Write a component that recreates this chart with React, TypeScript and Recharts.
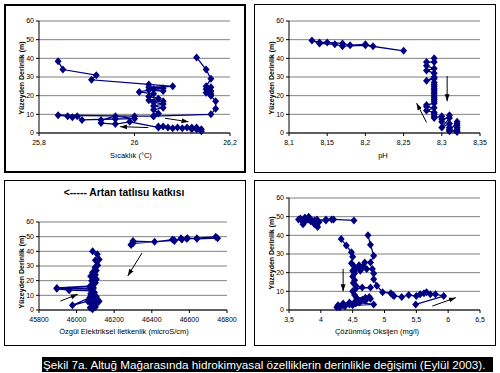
import React from 'react';
import { CartesianGrid, ReferenceLine, Scatter, ScatterChart, XAxis, YAxis } from 'recharts';

type Pt = { x: number; y: number };
const p = (x: number, y: number): Pt => ({ x, y });

const NAVY = '#000080';
const FONT = "'Liberation Sans', Arial, sans-serif";

const depthTicks = [0, 10, 20, 30, 40, 50, 60];
const tempTicks = [25.8, 26, 26.2];
const phTicks = [8.1, 8.15, 8.2, 8.25, 8.3, 8.35];
const ecTicks = [45800, 46000, 46200, 46400, 46600, 46800];
const doTicks = [3.5, 4, 4.5, 5, 5.5, 6, 6.5];

// Sıcaklık
const tempDeep = [
  p(26.13, 40.5), p(26.15, 34), p(26.16, 29), p(26.15, 25), p(26.16, 24.5), p(26.15, 23.5),
  p(26.16, 22.5), p(26.15, 21.5), p(26.16, 21), p(26.16, 20), p(26.17, 17), p(26.17, 13),
  p(26.16, 10), p(26.04, 9), p(26.05, 10.5), p(26.04, 12.5), p(26.06, 13.5), p(26.04, 14.5),
  p(26.06, 15.5), p(26.04, 16.5), p(26.06, 17), p(26.03, 17.5), p(26.05, 18.5), p(26.03, 19.5),
  p(26.04, 21), p(26.01, 22), p(26.03, 23), p(26.06, 22.5), p(26.04, 23.5), p(26.06, 24),
  p(26.03, 24.5), p(26.08, 25), p(26.03, 26), p(25.91, 28.5), p(25.92, 31), p(25.85, 34), p(25.84, 38.5),
];
const tempShallow = [
  p(26.14, 1), p(26.14, 2), p(26.13, 3), p(26.13, 2), p(26.12, 3), p(26.12, 2), p(26.11, 3),
  p(26.1, 2.5), p(26.09, 3), p(26.08, 2.5), p(26.07, 3), p(26.06, 3.5), p(26.05, 3.5), p(26.05, 3),
  p(25.99, 6), p(25.96, 4.8), p(25.93, 5.3), p(25.93, 7), p(25.96, 9), p(26.0, 7.7), p(25.96, 7.5),
  p(25.89, 7), p(25.88, 9), p(25.87, 8.5), p(25.86, 9), p(25.84, 9.5), p(26.0, 9), p(26.04, 9),
];
const tempArrows = [
  [26.064, 7.9, 26.113, 6],
  [26.029, 2.9, 25.97, 3.4],
];

// pH
const phUpper = [
  p(8.25, 44), p(8.2, 47), p(8.17, 46.5), p(8.16, 47.5), p(8.14, 48), p(8.13, 49.5), p(8.14, 48.5),
  p(8.15, 48.5), p(8.17, 48), p(8.18, 47), p(8.2, 47.5), p(8.21, 46.5),
];
const phLower = [
  p(8.29, 40), p(8.29, 38), p(8.28, 38), p(8.28, 36), p(8.29, 34.5), p(8.28, 33.5), p(8.29, 32),
  p(8.29, 30), p(8.28, 28), p(8.29, 29), p(8.29, 27), p(8.29, 26), p(8.29, 25), p(8.29, 24),
  p(8.29, 23), p(8.29, 22), p(8.29, 21), p(8.29, 20), p(8.29, 19), p(8.29, 18), p(8.29, 17),
  p(8.29, 16), p(8.28, 15), p(8.28, 14), p(8.29, 13.5), p(8.28, 12), p(8.29, 11), p(8.29, 10),
  p(8.29, 9), p(8.29, 8), p(8.3, 9), p(8.3, 7.5), p(8.3, 6), p(8.31, 9.5), p(8.31, 8), p(8.3, 3),
  p(8.31, 5), p(8.31, 3), p(8.31, 2), p(8.31, 1), p(8.32, 6), p(8.32, 5), p(8.32, 4), p(8.32, 3),
  p(8.32, 2), p(8.32, 1), p(8.31, 1.5), p(8.32, 0.5),
];
const phArrows = [
  [8.307, 30.5, 8.307, 17],
  [8.28, 5.7, 8.267, 16],
];

// Özgül elektriksel iletkenlik
const ecUpper = [
  p(46290, 44.5), p(46300, 47), p(46415, 46.5), p(46510, 48), p(46520, 47), p(46555, 49),
  p(46585, 48.5), p(46640, 49), p(46740, 50), p(46750, 49), p(46640, 48.5), p(46590, 49),
  p(46560, 48), p(46520, 47.5), p(46300, 45.5), p(46290, 44.5),
];
const ecLower = [
  p(46085, 40), p(46110, 38), p(46120, 34.5), p(46100, 34), p(46112, 30.5), p(46098, 29),
  p(46105, 27), p(46085, 25.5), p(46100, 24), p(46075, 23), p(46090, 22), p(46105, 21),
  p(46080, 20), p(46095, 19), p(46085, 17.5), p(46070, 16), p(46090, 15), p(45895, 14.5),
  p(45960, 13.5), p(46080, 13), p(46095, 12), p(46075, 11), p(46090, 10), p(46105, 9),
  p(46080, 8), p(46110, 7), p(46120, 6), p(46095, 5), p(46080, 4), p(46100, 3), p(46072, 1.5),
  p(46085, 0.5), p(46100, 2), p(46112, 5.5), p(46060, 6), p(45978, 3.2), p(46070, 8.5),
  p(46090, 11.5), p(46080, 14), p(45895, 15), p(46085, 16.5), p(46100, 18.5),
];
const ecArrows = [
  [46348, 38.9, 46272, 23.2],
  [45914, 6.1, 46006, 10.7],
];

// Çözünmüş oksijen
const doUpper = [
  p(4.52, 48), p(4.2, 48.5), p(4.17, 48.5), p(4.08, 48.5), p(3.97, 47), p(3.95, 44.5), p(3.9, 46),
  p(3.86, 48), p(3.81, 50), p(3.78, 48.5), p(3.74, 47), p(3.72, 46), p(3.7, 48), p(3.65, 48.5),
  p(3.68, 49), p(3.75, 49.5), p(3.8, 48.5), p(3.84, 47.5), p(3.9, 48), p(3.94, 48.5), p(4.08, 48),
];
const doRight = [
  p(4.74, 40), p(4.78, 35), p(4.83, 29), p(4.78, 25.5), p(4.69, 25.5), p(4.66, 23.5), p(4.6, 24),
  p(4.55, 22), p(4.62, 21), p(4.72, 22), p(4.81, 22), p(4.83, 19.5), p(4.83, 16.5), p(4.88, 13),
  p(4.97, 9.5), p(5.1, 9), p(5.13, 8), p(5.15, 7.5), p(5.27, 7), p(5.38, 8), p(5.5, 7.5),
  p(5.56, 8.5), p(5.62, 9), p(5.66, 9.5), p(5.72, 8.5), p(5.8, 8.5), p(5.93, 7.5), p(5.49, 3),
];
const doLeft = [
  p(4.32, 38), p(4.4, 34.5), p(4.48, 31), p(4.5, 28.5), p(4.48, 25), p(4.52, 23.5), p(4.5, 21),
  p(4.53, 19.5), p(4.5, 18), p(4.53, 16), p(4.51, 14.5), p(4.55, 13), p(4.65, 12), p(4.78, 12),
  p(4.55, 11.5), p(4.5, 10), p(4.53, 8), p(4.56, 6.5), p(4.7, 6.5), p(4.76, 7), p(4.65, 5.5),
  p(4.55, 5), p(4.45, 4), p(4.35, 3.5), p(4.27, 2.5), p(4.25, 1.5), p(4.3, 1.5), p(4.38, 2),
  p(4.45, 3), p(4.55, 3.5), p(4.62, 4.5), p(4.7, 5), p(4.78, 6), p(4.68, 5.5), p(4.6, 4),
  p(4.83, 3), p(4.5, 2.5), p(4.35, 2.5), p(4.28, 2),
];
const doArrows = [
  [4.35, 22, 4.35, 10],
  [5.75, 2.1, 6.12, 6.6],
];

const comma = (v: number) => String(v).replace('.', ',');

function Diamond(props: any) {
  const { cx, cy } = props;
  if (cx == null || cy == null) return null;
  return <path d={`M${cx},${cy - 4}L${cx + 3.5},${cy}L${cx},${cy + 4}L${cx - 3.5},${cy}Z`} fill={NAVY} />;
}

function Arrow(props: any) {
  const { x1, y1, x2, y2 } = props;
  return <line x1={x1} y1={y1} x2={x2} y2={y2} stroke="#000" strokeWidth={1} markerEnd="url(#arrowHead)" />;
}

type Box = { l: number; t: number; w: number; h: number };
type Plot = { l: number; t: number; r: number; b: number };

function Profile(props: {
  box: Box;
  plot: Plot;
  xDomain: [number, number];
  xTicks: number[];
  fmt?: (v: number) => string;
  series: Pt[][];
  arrows: number[][];
  xTitle: string;
  xTitleX: number;
  xTitleY: number;
  yTitleY: number;
  thick?: boolean;
}) {
  const { box, plot } = props;
  const margin = {
    top: plot.t - box.t,
    left: plot.l - box.l - 20,
    right: box.l + box.w - plot.r,
    bottom: box.t + box.h - plot.b - 20,
  };
  const tick = { fontSize: 7, fill: '#000', fontFamily: FONT };
  return (
    <>
      <div
        style={{
          position: 'absolute', left: box.l, top: box.t, width: box.w, height: box.h,
          border: props.thick ? '2px solid #000' : '1px solid #000', boxSizing: 'border-box',
        }}
      />
      <div style={{ position: 'absolute', left: box.l, top: box.t }}>
        <ScatterChart width={box.w} height={box.h} margin={margin}>
          <CartesianGrid vertical={false} stroke="#808080" />
          <XAxis
            type="number" dataKey="x" domain={props.xDomain} ticks={props.xTicks} interval={0}
            allowDataOverflow height={20} tick={tick} tickSize={3} tickMargin={4}
            axisLine={{ stroke: '#000' }} tickLine={{ stroke: '#000' }} tickFormatter={props.fmt}
          />
          <YAxis
            type="number" dataKey="y" domain={[0, 60]} ticks={depthTicks} interval={0}
            width={20} tick={tick} tickSize={3} tickMargin={2}
            axisLine={{ stroke: '#000' }} tickLine={{ stroke: '#000' }}
          />
          {props.series.map((s, i) => (
            <Scatter key={i} data={s} fill={NAVY} line={{ stroke: NAVY, strokeWidth: 1.3 }}
              lineType="joint" shape={Diamond} isAnimationActive={false} />
          ))}
          {props.arrows.map((a, i) => (
            <ReferenceLine key={'a' + i} segment={[{ x: a[0], y: a[1] }, { x: a[2], y: a[3] }]} shape={Arrow} />
          ))}
        </ScatterChart>
      </div>
      <div
        style={{
          position: 'absolute', left: props.xTitleX, top: props.xTitleY, transform: 'translate(-50%, -50%)',
          fontSize: 7.5, fontFamily: FONT, whiteSpace: 'nowrap', lineHeight: '10px', color: '#000',
        }}
      >
        {props.xTitle}
      </div>
      <div
        style={{
          position: 'absolute', left: box.l + 17, top: props.yTitleY,
          transform: 'translate(-50%, -50%) rotate(-90deg)',
          fontSize: 7, fontWeight: 'bold', fontFamily: FONT, whiteSpace: 'nowrap', lineHeight: '9px',
        }}
      >
        Yüzeyden Derinlik (m)
      </div>
    </>
  );
}

export default function App() {
  return (
    <div style={{ position: 'absolute', left: 0, top: 0, width: 500, height: 373, background: '#fff', overflow: 'hidden' }}>
      <svg width={0} height={0} style={{ position: 'absolute' }}>
        <defs>
          <marker id="arrowHead" viewBox="0 0 10 10" refX={10} refY={5} markerWidth={7} markerHeight={7} orient="auto">
            <path d="M0,1.5 L10,5 L0,8.5 Z" fill="#000" />
          </marker>
        </defs>
      </svg>
      <Profile
        box={{ l: 4, t: 4, w: 242, h: 169 }} plot={{ l: 39, t: 21, r: 230, b: 133 }}
        xDomain={[25.8, 26.2]} xTicks={tempTicks} fmt={comma}
        series={[tempDeep, tempShallow]} arrows={tempArrows}
        xTitle="Sıcaklık (°C)" xTitleX={131} xTitleY={156} yTitleY={78} thick
      />
      <Profile
        box={{ l: 254, t: 4, w: 242, h: 169 }} plot={{ l: 289, t: 21, r: 480, b: 133 }}
        xDomain={[8.1, 8.35]} xTicks={phTicks} fmt={comma}
        series={[phUpper, phLower]} arrows={phArrows}
        xTitle="pH" xTitleX={383} xTitleY={156} yTitleY={78}
      />
      <Profile
        box={{ l: 4, t: 180, w: 242, h: 166 }} plot={{ l: 39, t: 222, r: 227, b: 310 }}
        xDomain={[45800, 46800]} xTicks={ecTicks}
        series={[ecUpper, ecLower]} arrows={ecArrows}
        xTitle="Özgül Elektriksel İletkenlik (microS/cm)" xTitleX={124} xTitleY={332} yTitleY={272}
      />
      <Profile
        box={{ l: 254, t: 180, w: 242, h: 166 }} plot={{ l: 289, t: 198, r: 480, b: 310 }}
        xDomain={[3.5, 6.5]} xTicks={doTicks} fmt={comma}
        series={[doUpper, doRight, doLeft]} arrows={doArrows}
        xTitle="Çözünmüş Oksijen (mg/l)" xTitleX={377} xTitleY={332} yTitleY={253}
      />
      <div
        style={{
          position: 'absolute', left: 4, top: 187, width: 240, textAlign: 'center',
          fontSize: 10.3, fontWeight: 'bold', fontFamily: FONT, lineHeight: '12px', whiteSpace: 'nowrap',
        }}
      >
        {'<----- Artan tatlısu katkısı'}
      </div>
      <div
        style={{
          position: 'absolute', left: 42, top: 357, width: 451, height: 15, background: '#000', color: '#fff',
          fontSize: 11.7, fontFamily: FONT, lineHeight: '15px', whiteSpace: 'nowrap', paddingLeft: 1,
          boxSizing: 'border-box',
        }}
      >
        Şekil 7a. Altuğ Mağarasında hidrokimyasal özelliklerin derinlikle değişimi (Eylül 2003).
      </div>
    </div>
  );
}
